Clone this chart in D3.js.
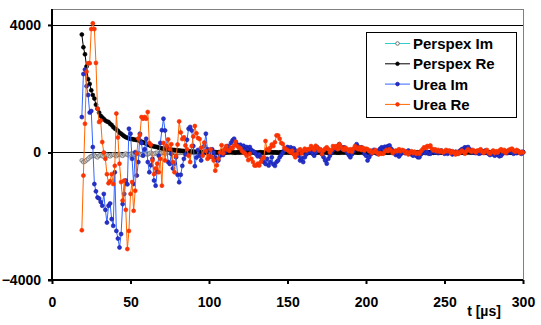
<!DOCTYPE html>
<html><head><meta charset="utf-8">
<script src="https://cdn.jsdelivr.net/npm/d3@7"></script>
<style>
html,body{margin:0;padding:0;background:#fff;}
svg{display:block;font-family:"Liberation Sans",Arial,sans-serif;}
</style></head>
<body>
<svg id="chart" width="541" height="325"></svg>
<script>
// sampling: t = 19 .. 300 µs, 1 µs step
const tStart = 19, tEnd = 300;
const xTicks = [0, 50, 100, 150, 200, 250, 300];
const yTicks = [-4000, 0, 4000];
const seriesNames = ["Perspex Im", "Perspex Re", "Urea Im", "Urea Re"];

const perspexIm = [
-250,-300,-280,-240,-200,-150,-120,-100,-80,-120,
-150,-100,-80,-110,-130,-90,-70,-100,-120,-80,
-60,-90,-110,-70,-50,-80,-100,-60,-40,-70,
-90,-50,-30,-60,-80,-40,-20,-50,-70,-30,
-20,-50,-60,-30,-10,-40,-50,-20,-10,-40,
-30,-10,0,-30,-20,0,-10,-20,0,-10,
-20,0,-10,-5,0,-10,0,-5,0,-10,
0,-5,0,-10,0,5,0,-5,0,-5,
0,-5,5,0,-10,0,5,-5,0,5,
-5,0,0,5,-5,0,-10,-5,0,5,
0,-5,5,0,-5,0,5,0,-5,0,
5,0,-5,0,5,-5,0,0,5,-5,
0,5,0,-5,0,-10,0,5,0,-5,
0,5,-5,0,5,0,-5,0,5,0,
-5,0,5,0,-5,5,0,-5,0,5,
0,-5,0,5,0,-5,0,5,-5,0,
5,0,-5,0,5,0,-5,5,0,-5,
0,5,0,-5,0,5,-5,0,5,0,
-5,0,5,0,-5,0,5,0,-5,5,
0,-5,0,5,0,-5,0,5,0,-5,
5,0,-5,0,5,0,-5,0,5,0,
-5,5,0,-5,0,5,0,-5,0,5,
0,-5,0,5,-5,0,5,0,-5,0,
5,0,-5,0,5,0,-5,5,0,-5,
0,5,0,-5,0,5,0,-5,0,5,
-5,0,5,0,-5,0,5,0,-5,0,
5,-5,0,5,0,-5,0,5,0,-5,
0,5,0,-5,5,0,-5,0,5,0,
-5,0];

const perspexRe = [
3700,3300,3080,2700,2300,2150,1950,1800,1690,1500,
1375,1250,1150,1100,1050,1000,970,955,900,860,
800,750,720,680,620,590,550,510,480,460,
440,430,420,410,400,390,380,360,340,320,
300,280,250,230,210,200,190,180,170,150,
140,130,120,110,100,95,90,85,80,75,
70,65,60,55,50,45,40,40,35,30,
30,25,20,20,15,10,10,5,10,0,
5,10,0,-5,5,10,0,5,-5,0,
10,5,0,5,10,15,5,0,-5,5,
0,5,10,5,0,-5,0,5,10,5,
0,-5,-10,0,5,0,-10,-5,0,5,
10,5,0,5,0,-5,0,5,10,5,
0,5,0,-5,0,5,0,5,10,0,
-5,0,5,0,-5,0,5,5,0,-5,
0,5,0,5,10,5,0,-5,0,5,
0,5,0,-5,-5,0,5,0,5,0,
-5,0,5,10,5,0,-5,0,5,0,
5,0,-5,0,5,0,5,0,-5,0,
5,0,5,10,0,-5,0,5,0,-5,
0,5,0,-5,0,5,0,5,0,-5,
-5,0,5,0,5,0,-5,0,5,10,
5,0,5,0,-5,0,5,0,5,0,
-5,0,5,0,-5,0,5,0,5,0,
0,5,0,-5,0,5,10,5,0,5,
0,-5,0,5,0,5,0,-5,0,5,
0,-5,-5,0,5,0,5,0,-5,0,
5,0,5,0,-5,0,5,0,5,0,
0,5];

const ureaIm = [
1110,2460,2600,2080,1800,1250,1300,170,-990,-1220,
-1410,-1440,-1550,-1670,-1300,-1800,-2200,-1670,-1600,-2090,
-2300,-620,-2460,-2700,-2980,-2560,-1620,-1300,-880,-1000,
745,590,-200,-990,10,-725,-300,590,300,-100,
100,430,-300,-620,-400,-200,-880,-1040,-600,-100,
300,700,1060,690,175,-300,-360,-40,-500,-350,
-150,-700,-935,-700,-420,-200,-60,400,745,800,
690,200,-430,-160,80,-100,-250,-50,200,590,
100,-150,-50,100,0,-150,-250,-250,-100,50,
-80,0,150,200,100,300,380,430,330,250,
200,240,150,210,100,170,120,170,80,40,
10,-50,-120,-60,-150,-250,-300,-360,-200,-410,
-300,-150,-370,-420,-300,-250,-150,-80,0,60,
100,170,120,160,90,130,60,-20,-100,-250,
-180,-300,-150,-60,0,60,20,-40,-100,0,
160,100,40,-60,-150,-250,-350,-200,-100,0,
80,160,120,200,260,180,100,160,60,0,
-80,-150,-60,40,120,260,180,100,160,60,
-40,-100,
-250,-150,-60,0,80,20,-40,60,120,160,
100,180,140,200,220,120,60,-20,-80,-40,
-125,-60,0,40,-20,20,60,0,-60,-100,
-40,-100,-150,-150,-60,0,40,-20,20,-40,
-40,20,60,0,40,-20,20,60,0,-40,
20,-40,0,40,-60,-20,20,-40,0,60,
100,120,160,140,170,100,60,0,40,-20,
20,-40,-20,40,0,60,20,-40,-80,-20,
-60,-100,-40,-80,-120,-100,-40,0,40,-20,
20,60,0,-40,20,-20,40,0,-40,20];

const ureaRe = [
-2440,-725,900,2530,2800,2800,3870,4050,3870,2810,
1375,955,1000,325,0,-200,-680,-965,-900,-680,
-990,-420,1220,470,-350,-930,-1510,-880,-1800,-3030,
-2460,-1300,-930,-1830,-1200,-30,440,550,1110,1060,
1110,1060,1270,300,240,-250,-680,-500,-350,-620,
-200,-1040,300,-250,200,410,100,260,-300,-620,
-110,250,975,630,420,475,220,100,-100,-300,
200,500,830,600,450,420,150,-100,310,45,
-200,-100,100,-150,-250,-570,-400,-200,0,230,
-30,100,200,80,50,150,130,220,340,200,
150,130,50,0,-30,-100,-240,-40,-200,-300,
-410,-410,-350,-410,-300,-200,-150,360,100,60,
150,250,200,320,535,535,430,300,265,150,
100,80,40,0,55,-60,-150,-50,60,100,
-30,50,120,60,100,100,200,150,80,210,
150,60,100,-50,60,120,160,100,0,80,
200,150,200,100,260,180,120,80,150,100,
40,100,20,120,200,150,100,160,80,150,
60,120,
100,40,60,-20,20,80,0,-60,-20,-40,
-40,30,80,40,100,60,-20,20,60,40,
100,40,80,60,-20,20,-60,0,40,-20,
20,-40,0,-40,40,100,160,140,200,180,
220,120,60,100,40,80,20,60,0,20,
80,40,60,-20,40,0,-60,20,-40,0,
60,20,-40,40,100,60,20,80,40,0,
60,60,100,20,-20,40,80,0,-40,20,
60,-20,40,0,60,100,40,80,-20,40,
80,100,120,60,20,80,40,-20,20,0];

const times = d3.range(tStart, tEnd + 1);

const styles = {
  "Perspex Im": {line: "#33cccc", fill: "#d8d8d8", stroke: "#555555"},
  "Perspex Re": {line: "#000000", fill: "#000000", stroke: "#000000"},
  "Urea Im":    {line: "#3366ff", fill: "#2233cc", stroke: "#1a1aa8"},
  "Urea Re":    {line: "#ff6600", fill: "#ff3300", stroke: "#f03000"}
};
const seriesData = [perspexIm, perspexRe, ureaIm, ureaRe];

const svg = d3.select("#chart");
const margin = {left: 52, right: 523, top: 9, bottom: 280};
const x = d3.scaleLinear().domain([0, 300]).range([margin.left, margin.right]);
const y = d3.scaleLinear().domain([-4000, 4500]).range([margin.bottom, margin.top]);

// plot frame (grey top/right)
svg.append("line").attr("x1", margin.left).attr("x2", margin.right)
  .attr("y1", margin.top + 0.5).attr("y2", margin.top + 0.5)
  .attr("stroke", "#808080").attr("stroke-width", 1);
svg.append("line").attr("x1", margin.right + 0.5).attr("x2", margin.right + 0.5)
  .attr("y1", margin.top).attr("y2", margin.bottom)
  .attr("stroke", "#808080").attr("stroke-width", 1);

// gridlines at 4000 and 0
svg.append("g").selectAll("line").data(yTicks.filter(d => d !== -4000)).join("line")
  .attr("x1", margin.left).attr("x2", margin.right)
  .attr("y1", d => Math.round(y(d)) + 0.5).attr("y2", d => Math.round(y(d)) + 0.5)
  .attr("stroke", "#000").attr("stroke-width", 1);

// series
const line = d3.line().x((d, i) => x(times[i])).y(d => y(d));
seriesNames.forEach((name, k) => {
  const vals = seriesData[k];
  const st = styles[name];
  const g = svg.append("g");
  g.append("path").datum(vals).attr("d", line)
    .attr("fill", "none").attr("stroke", st.line).attr("stroke-width", 1);
  g.selectAll("circle").data(vals).join("circle")
    .attr("cx", (d, i) => x(times[i])).attr("cy", d => y(d)).attr("r", 2)
    .attr("fill", st.fill).attr("stroke", st.stroke).attr("stroke-width", 0.6);
});

// axes
const yAxis = d3.axisLeft(y).tickValues(yTicks).tickSize(4).tickPadding(7).tickFormat(d3.format("d"));
const xAxis = d3.axisBottom(x).tickValues(xTicks).tickSize(4).tickPadding(13).tickFormat(d3.format("d"));
const gy = svg.append("g").attr("transform", `translate(${margin.left},0)`).call(yAxis);
const gx = svg.append("g").attr("transform", `translate(0,${margin.bottom})`).call(xAxis);
[gx, gy].forEach(g => {
  g.select(".domain").attr("stroke", "#000").attr("stroke-width", 2);
  g.selectAll(".tick line").attr("stroke", "#000").attr("stroke-width", 2);
  g.selectAll(".tick text").attr("fill", "#000")
    .attr("font-family", "'Liberation Sans', Arial, sans-serif")
    .attr("font-size", 14).attr("font-weight", "bold");
});
gy.select(".domain").attr("d", `M-4,${margin.bottom}H0V${margin.top}`);
gx.select(".domain").attr("d", `M${margin.left},0H${margin.right}`);

// x axis title
svg.append("text").attr("x", 484).attr("y", 316).attr("text-anchor", "middle")
  .attr("font-size", 14).attr("font-weight", "bold").attr("fill", "#000")
  .text("t [µs]");

// legend
const lg = svg.append("g");
lg.append("rect").attr("x", 366.5).attr("y", 32.5).attr("width", 150).attr("height", 85)
  .attr("fill", "#fff").attr("stroke", "#000").attr("stroke-width", 1);
seriesNames.forEach((name, k) => {
  const st = styles[name];
  const cy = 43.5 + k * 20.3;
  lg.append("line").attr("x1", 385).attr("x2", 410).attr("y1", cy).attr("y2", cy)
    .attr("stroke", st.line).attr("stroke-width", 1);
  lg.append("circle").attr("cx", 397.5).attr("cy", cy).attr("r", 1.8)
    .attr("fill", k === 0 ? "#fff" : st.fill).attr("stroke", st.stroke).attr("stroke-width", 0.8);
  lg.append("text").attr("x", 413).attr("y", cy + 5.5).attr("font-size", 15)
    .attr("font-weight", "bold").attr("fill", "#000").text(name);
});
</script>
</body></html>
